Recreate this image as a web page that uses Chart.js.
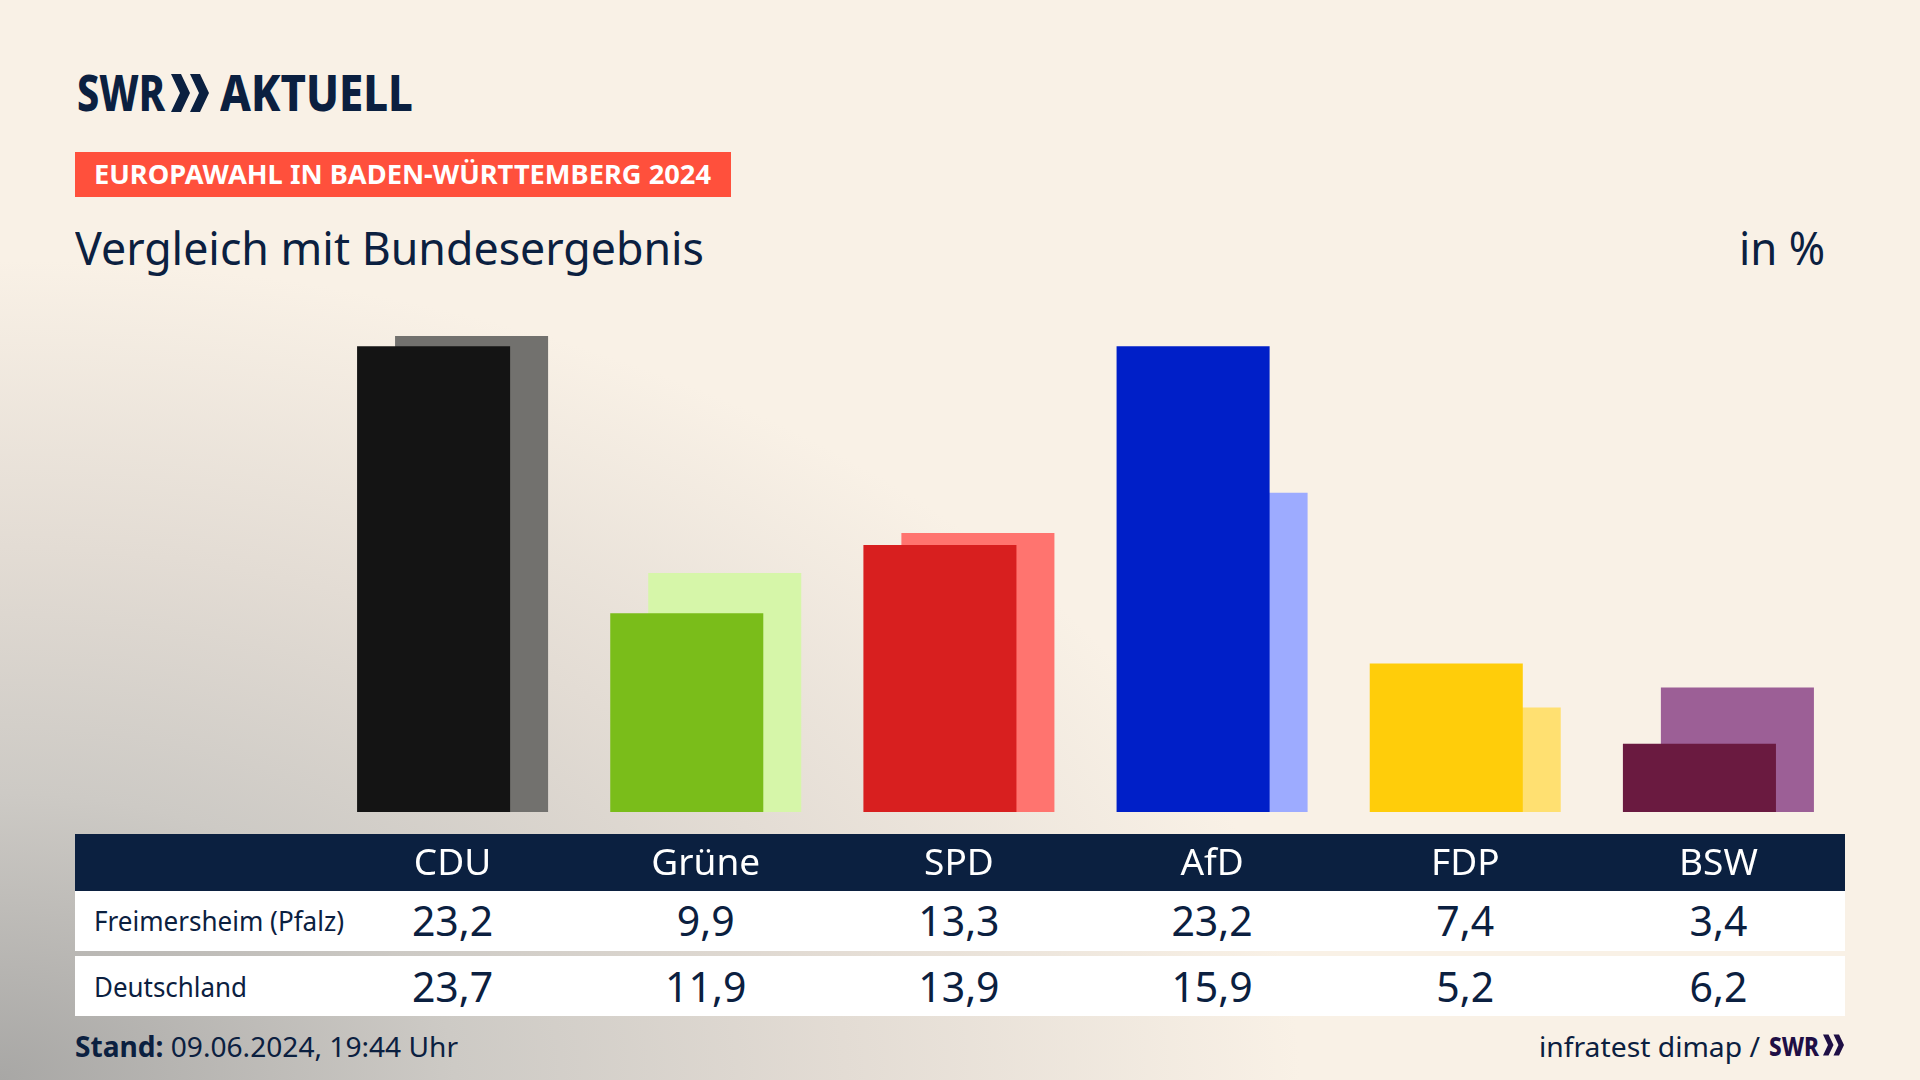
<!DOCTYPE html>
<html lang="de">
<head>
<meta charset="utf-8">
<title>Europawahl in Baden-Württemberg 2024</title>
<script src="https://cdn.jsdelivr.net/npm/chart.js@4"></script>
<style>
    html, body { margin: 0; padding: 0; }
    body {
        width: 1920px; height: 1080px; position: relative; overflow: hidden;
        background: radial-gradient(ellipse 1300px 820px at 0 100%, #a8a7a5 0%, #cdcac5 35%, #e3dcd4 65%, #f9f1e6 100%), #f9f1e6;
        font-family: "Noto Sans", sans-serif; color: #0b2040;
    }
    .abs { position: absolute; white-space: nowrap; transform-origin: 0 50%; }
    #chart { position: absolute; left: 0; top: 0; z-index: 2; }
    .logo { font-weight: 800; font-size: 49px; line-height: 48px; top: 68px; }
    .banner { left: 75px; top: 152px; width: 656px; height: 45px; background: #ff503c; }
    .banner span { position: absolute; left: 19px; top: 0; line-height: 45px; font-size: 26px; font-weight: 700; color: #fff; white-space: nowrap; transform-origin: 0 50%; }
    .title { font-size: 45px; line-height: 54px; top: 221px; }
    .band { left: 75px; width: 1770px; }
    .rowlabel { left: 94px; font-size: 27px; line-height: 32px; }
    .value { font-size: 41px; line-height: 48px; transform: translateX(-50%); }
    .foot { font-size: 28px; line-height: 34px; top: 1029px; }
</style>
</head>
<body>

<div class="abs logo" style="left:77px" data-w="88">SWR</div>
<svg class="abs" style="left:171px;top:74px" width="38" height="38" viewBox="0 0 38 38" fill="#0b2040">
    <polygon points="0,0 10,0 19,19 10,38 0,38 9,19"/>
    <polygon points="19,0 29,0 38,19 29,38 19,38 28,19"/>
</svg>
<div class="abs logo" style="left:220px" data-w="193">AKTUELL</div>

<div class="abs banner"><span data-w="617">EUROPAWAHL IN BADEN-WÜRTTEMBERG 2024</span></div>
<div class="abs title" style="left:75px" data-w="629">Vergleich mit Bundesergebnis</div>
<div class="abs title" style="left:1739px" data-w="86">in %</div>

<div class="abs band" style="top:834px;height:57px;background:#0b2040"></div>
<div class="abs band" style="top:891px;height:60px;background:#fff"></div>
<div class="abs band" style="top:956px;height:60px;background:#fff"></div>
<div id="rows"></div>

<canvas id="chart" width="1920" height="1080"></canvas>

<div class="abs foot" style="left:75px" data-w="383"><b>Stand:</b> 09.06.2024, 19:44 Uhr</div>
<div class="abs foot" style="left:1539px" data-w="221">infratest dimap /</div>
<div class="abs" style="left:1769px;top:1029px;font-size:27px;line-height:34px;font-weight:800;color:#1f0f45" data-w="50">SWR</div>
<svg class="abs" style="left:1823px;top:1034px" width="21" height="22" viewBox="0 0 38 38" fill="#1f0f45">
    <polygon points="0,0 10,0 19,19 10,38 0,38 9,19"/>
    <polygon points="19,0 29,0 38,19 29,38 19,38 28,19"/>
</svg>

<script>
/* ============================================================
   DATA
============================================================ */

const parties = ["CDU", "Grüne", "SPD", "AfD", "FDP", "BSW"];

const freimersheim = [23.2, 9.9, 13.3, 23.2, 7.4, 3.4];
const deutschland = [23.7, 11.9, 13.9, 15.9, 5.2, 6.2];

const frontColors = ["#141414", "#7abd1a", "#d81f1f", "#001fc8", "#ffcd0a", "#6a1a40"];
const backColors = ["#72716e", "#d6f6a9", "#ff746f", "#9dabff", "#ffe071", "#9c5f96"];

const rowLabels = ["Freimersheim (Pfalz)", "Deutschland"];
const rowLabelWidths = [250, 153];


/* ============================================================
   CHART
============================================================ */

const chart = new Chart(document.getElementById("chart"), {
    type: "bar",
    data: {
        labels: parties,
        datasets: [
            { label: rowLabels[0], data: freimersheim, backgroundColor: frontColors },
            { label: rowLabels[1], data: deutschland, backgroundColor: backColors }
        ]
    },
    options: {
        responsive: false,
        animation: false,
        layout: { padding: { left: 326, right: 75, top: 310, bottom: 0 } },
        // grouped bars pushed together so they overlap
        categoryPercentage: 0.3,
        barPercentage: 4.03,
        plugins: { legend: { display: false }, tooltip: { enabled: false } },
        scales: {
            x: {
                grid: { display: false },
                border: { display: false },
                afterFit: s => { s.height = 268; },
                ticks: {
                    color: "#fff",
                    font: { family: "Noto Sans", size: 37 },
                    padding: 22,
                    maxRotation: 0,
                    autoSkip: false
                }
            },
            y: { display: false, min: 0, max: 25 }
        }
    }
});


/* ============================================================
   TABLE ROWS
============================================================ */

function comma(v) {
    return v.toFixed(1).replace(".", ",");
}

function addRow(index, values, centerY) {
    const box = document.getElementById("rows");

    const head = document.createElement("div");
    head.className = "abs rowlabel";
    head.style.top = (centerY - 16) + "px";
    head.dataset.w = rowLabelWidths[index];
    head.innerText = rowLabels[index];
    box.appendChild(head);

    values.forEach((v, i) => {
        const cell = document.createElement("div");
        cell.className = "abs value";
        cell.style.left = chart.scales.x.getPixelForValue(i) + "px";
        cell.style.top = (centerY - 25) + "px";
        cell.innerText = comma(v);
        box.appendChild(cell);
    });
}

addRow(0, freimersheim, 921);
addRow(1, deutschland, 987);


/* ============================================================
   SQUEEZE TEXT TO THE MEASURED WIDTHS
============================================================ */

document.querySelectorAll("[data-w]").forEach(el => {
    const scale = Number(el.dataset.w) / el.getBoundingClientRect().width;
    el.style.transform = "scaleX(" + scale + ")";
});
</script>
</body>
</html>
